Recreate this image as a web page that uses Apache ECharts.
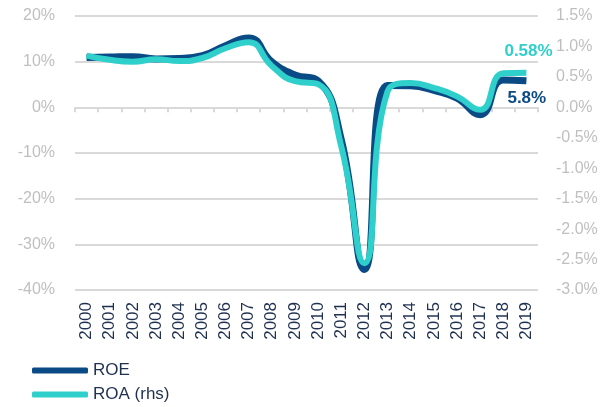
<!DOCTYPE html>
<html>
<head>
<meta charset="utf-8">
<script src="https://cdn.jsdelivr.net/npm/echarts@6/dist/echarts.min.js"></script>
<style>
  html, body { margin: 0; padding: 0; background: #fff; }
  #chart { width: 606px; height: 407px; }
</style>
</head>
<body>
<div id="chart"></div>
<script>
var navy = '#0a4a85';
var teal = '#2fcfcc';
var gridColor = '#d9d9d9';

var years = ['2000', '2001', '2002', '2003', '2004', '2005', '2006', '2007', '2008', '2009',
  '2010', '2011', '2012', '2013', '2014', '2015', '2016', '2017', '2018', '2019'];
// ROE, % (left axis)
var roe = [10.9, 11.0, 11.1, 10.6, 10.7, 11.3, 13.5, 15.2, 10.0, 7.1,
  5.8, -7.0, -35.5, 4.8, 4.7, 3.7, 2.0, -1.6, 6.0, 5.8];
// ROA, % (right axis)
var roa = [0.85, 0.78, 0.75, 0.79, 0.76, 0.81, 0.97, 1.07, 0.68, 0.43,
  0.38, -0.64, -2.56, 0.26, 0.40, 0.32, 0.18, -0.04, 0.56, 0.57];
var endLabels = ['5.8%', '0.58%'];

var chart = echarts.init(document.getElementById('chart'), null, { renderer: 'canvas' });

var option = {
  backgroundColor: '#fff',
  animation: false,
  textStyle: { fontFamily: 'Liberation Sans, Arial, sans-serif' },
  grid: { left: 75, right: 68, top: 16, bottom: 117 },
  legend: {
    orient: 'vertical',
    left: 27,
    top: 357,
    height: 60,
    itemWidth: 56,
    itemHeight: 6,
    itemGap: 7,
    icon: 'roundRect',
    textStyle: { color: '#1f3050', fontSize: 17 },
    data: ['ROE', 'ROA (rhs)']
  },
  xAxis: [
    {
      type: 'category',
      data: years,
      boundaryGap: true,
      position: 'bottom',
      axisLine: { show: false, onZero: false },
      axisTick: { show: false },
      axisLabel: { rotate: 90, margin: 12, color: '#1f3050', fontSize: 17, interval: 0 }
    },
    {
      type: 'category',
      data: years,
      boundaryGap: true,
      position: 'bottom',
      axisLine: { show: true, onZero: true, onZeroAxisIndex: 0, lineStyle: { color: gridColor, width: 2 } },
      axisTick: { show: true, length: 5, interval: 0, lineStyle: { color: gridColor, width: 2 } },
      axisLabel: { show: false }
    }
  ],
  yAxis: [
    {
      type: 'value',
      min: -40, max: 20, interval: 10,
      axisLine: { show: false },
      axisTick: { show: false },
      axisLabel: { formatter: '{value}%', color: '#bfbfbf', fontSize: 16, margin: 20 },
      splitLine: { lineStyle: { color: gridColor, width: 2 } }
    },
    {
      type: 'value',
      min: -3, max: 1.5, interval: 0.5,
      position: 'right',
      axisLine: { show: false },
      axisTick: { show: false },
      axisLabel: {
        formatter: function (v) { return v.toFixed(1) + '%'; },
        color: '#bfbfbf', fontSize: 16, margin: 18
      },
      splitLine: { show: false }
    }
  ],
  series: [
    {
      name: 'ROE',
      type: 'line',
      yAxisIndex: 0,
      smooth: 0.5,
      showSymbol: false,
      color: navy,
      lineStyle: { width: 7, color: navy },
      endLabel: {
        show: true, distance: 0, offset: [-19, 17],
        formatter: endLabels[0], color: navy, fontWeight: 'bold', fontSize: 17
      },
      data: roe,
      z: 2
    },
    {
      name: 'ROA (rhs)',
      type: 'line',
      yAxisIndex: 1,
      smooth: 0.5,
      showSymbol: false,
      color: teal,
      lineStyle: { width: 6, color: teal },
      endLabel: {
        show: true, distance: 0, offset: [-22, -21],
        formatter: endLabels[1], color: teal, fontWeight: 'bold', fontSize: 17
      },
      data: roa,
      z: 3
    }
  ]
};

chart.setOption(option);
</script>
</body>
</html>
